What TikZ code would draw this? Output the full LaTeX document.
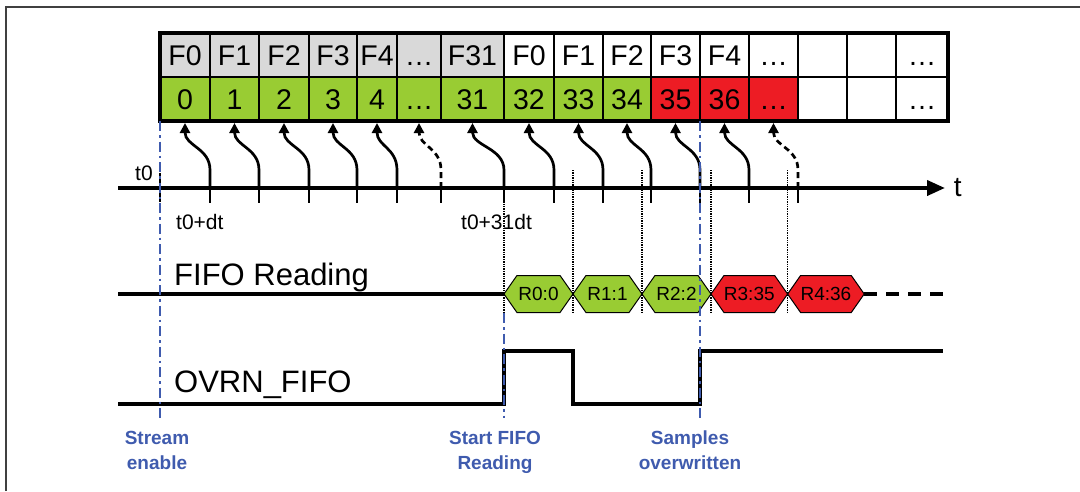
\documentclass[tikz,border=0pt]{standalone}
\usepackage{fontspec}
\setmainfont{Liberation Sans}
\usetikzlibrary{arrows.meta, positioning, shapes.symbols}

\definecolor{cellgray}{HTML}{D9D9D9}
\definecolor{cellgreen}{HTML}{99CC33}
\definecolor{cellred}{HTML}{ED1C24}
\definecolor{markblue}{HTML}{3F5BAE}

\begin{document}
\begin{tikzpicture}[x=1pt, y=-1pt,
    cella/.style={draw, line width=1.3pt, anchor=west, inner sep=0pt, outer sep=0pt,
        minimum height=44pt, text height=20pt, text depth=0pt,
        font=\fontsize{28.5}{30}\selectfont},
    hexa/.style={draw, line width=1pt, signal, signal to=west and east,
        signal pointer angle=110, minimum width=69pt, minimum height=37pt,
        inner sep=0pt, outer sep=0pt, font=\fontsize{19}{20}\selectfont},
    tick/.style={line width=2.2pt},
    curvarrow/.style={line width=2.7pt, shorten >=2pt,
        -{Triangle[length=10pt, width=10pt]}},
    axisline/.style={line width=3.8pt, -{Triangle[length=18pt, width=15pt]}},
    gridline/.style={line width=1.4pt, densely dotted},
    wave/.style={line width=3.3pt},
    markline/.style={draw=markblue, line width=2.8pt,
        dash pattern=on 10pt off 4pt on 2.5pt off 4pt},
    marklabel/.style={text=markblue, align=center, anchor=north, inner sep=0pt,
        font=\bfseries\fontsize{19}{25}\selectfont},
    siglabel/.style={anchor=base west, inner sep=0pt, font=\fontsize{31}{33}\selectfont},
    timelabel/.style={anchor=base west, inner sep=0pt, font=\fontsize{21}{23}\selectfont}]

    \useasboundingbox (0,0) rectangle (1080,491);

    % ==========================================
    % CORNICE
    % ==========================================
    \draw [line width=1.5pt, black!75] (6,491) -- (6,7) -- (1080,7);

    % ==========================================
    % PARAMETRI GEOMETRICI
    % ==========================================
    \def\yAxis{188}   % asse dei tempi
    \def\yTop{170}    % inizio linee verticali
    \def\yRead{294}   % segnale FIFO Reading
    \def\yLow{404}    % OVRN_FIFO basso
    \def\yHigh{351}   % OVRN_FIFO alto
    \def\xEnd{943}    % fine dei segnali

    \coordinate (dtop) at (0,\yTop);
    \coordinate (dbot) at (0,313);
    \coordinate (mbot) at (0,418);

    % ==========================================
    % TABELLA FIFO (riga F, riga campioni)
    % ==========================================
    \foreach \xl/\xr/\ttop/\tbot/\ftop/\fbot [count=\i from 0] in {
        160/210/F0/0/cellgray/cellgreen,
        210/259/F1/1/cellgray/cellgreen,
        259/309/F2/2/cellgray/cellgreen,
        309/357/F3/3/cellgray/cellgreen,
        357/397/F4/4/cellgray/cellgreen,
        397/441/…/…/cellgray/cellgreen,
        441/504/F31/31/cellgray/cellgreen,
        504/554/F0/32/white/cellgreen,
        554/603/F1/33/white/cellgreen,
        603/651/F2/34/white/cellgreen,
        651/700/F3/35/white/cellred,
        700/749/F4/36/white/cellred,
        749/798/…/…/white/cellred,
        798/847/{}/{}/white/white,
        847/896/{}/{}/white/white,
        896/948/…/…/white/white} {
        \pgfmathsetmacro{\cw}{\xr-\xl}
        \node [cella, fill=\ftop, minimum width=\cw pt] (h\i) at (\xl,55) {\ttop};
        \node [cella, fill=\fbot, minimum width=\cw pt] (c\i) at (\xl,99) {\tbot};
        \coordinate (k\i) at (\xr,\yAxis);
    }

    % ==========================================
    % ASSE DEI TEMPI E TACCHE
    % ==========================================
    \coordinate (ax0) at (118,\yAxis);
    \coordinate (ax1) at (945,\yAxis);
    \draw [axisline] (ax0) -- (ax1)
        node [anchor=west, inner sep=0pt, xshift=7pt, font=\fontsize{28}{30}\selectfont] (tlab) {t};

    \draw [tick] (c0.west |- k0) ++(0,-15) -- ++(0,29);
    \foreach \i in {0,...,12}
        \draw [tick] (k\i) -- ++(0,15);

    % Frecce curve: scrittura di ogni campione nella FIFO
    \foreach \i in {0,1,2,3,4,6,7,8,9,10,11}
        \draw [curvarrow] (k\i) -- ++(0,-18) .. controls +(0,-22) and +(0,25) .. (c\i.south);
    \foreach \i in {5,12}
        \draw [curvarrow, dash pattern=on 6pt off 4pt] (k\i) -- ++(0,-18) .. controls +(0,-22) and +(0,25) .. (c\i.south);

    % Bordo esterno della tabella
    \draw [line width=4pt] (h0.north west) rectangle (c15.south east);

    \node [anchor=base west, inner sep=0pt, font=\fontsize{21}{23}\selectfont] (t0lab) at (135,180) {t0};
    \node [timelabel] (t1lab) at (176,229) {t0+dt};
    \node [timelabel] (t31lab) at (461,229) {t0+31dt};

    % ==========================================
    % SEGNALE FIFO READING
    % ==========================================
    \node [hexa, fill=cellgreen, anchor=west] (r0) at (504,\yRead) {R0:0};
    \node [hexa, fill=cellgreen, right=0pt of r0] (r1) {R1:1};
    \node [hexa, fill=cellgreen, right=0pt of r1] (r2) {R2:2};
    \node [hexa, fill=cellred, right=0pt of r2] (r3) {R3:35};
    \node [hexa, fill=cellred, right=0pt of r3] (r4) {R4:36};

    \coordinate (fr0) at (118,\yRead);
    \coordinate (fr1) at (\xEnd,\yRead);
    \draw [wave] (fr0) -- (r0.west);
    \draw [wave, dash pattern=on 13pt off 9pt] (r4.east) -- (fr1);

    \foreach \a in {r0.west, r0.east, r1.east, r2.east, r3.east}
        \draw [gridline] (\a |- dtop) -- (\a |- dbot);

    \node [siglabel] (rdlab) at (174,285) {FIFO Reading};

    % ==========================================
    % SEGNALE OVRN_FIFO
    % ==========================================
    \draw [wave] (118,\yLow) -- (504,\yLow) -- (504,\yHigh) -- (573,\yHigh)
        -- (573,\yLow) -- (700,\yLow) -- (700,\yHigh) -- (\xEnd,\yHigh);
    \node [siglabel] (ovlab) at (174,392) {OVRN\_FIFO};

    % ==========================================
    % LINEE DI RIFERIMENTO (BLU)
    % ==========================================
    \draw [markline] (c0.south west) -- (c0.south west |- mbot);
    \draw [markline] (r0.west |- dbot) -- (r0.west |- mbot);
    \draw [markline] (c11.south west) -- (c11.south west |- mbot);

    \node [marklabel] (mk0) at (157,431) {Stream\\enable};
    \node [marklabel] (mk1) at (495,431) {Start FIFO\\Reading};
    \node [marklabel] (mk2) at (690,431) {Samples\\overwritten};

\end{tikzpicture}
\end{document}
